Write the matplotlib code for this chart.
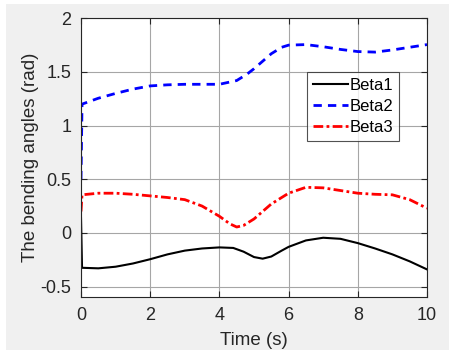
import matplotlib.pyplot as plt
from matplotlib.patches import Rectangle

# values
t1 = [0, 0.03, 0.5, 1, 1.5, 2, 2.5, 3, 3.5, 4, 4.4, 4.7, 5.0, 5.25, 5.5, 5.8, 6, 6.5, 7, 7.5, 8, 8.5, 9, 9.5, 10]
beta1 = [0.14, -0.325, -0.33, -0.315, -0.285, -0.245, -0.2, -0.165, -0.145, -0.135, -0.14, -0.175, -0.225,
         -0.24, -0.22, -0.165, -0.13, -0.07, -0.045, -0.055, -0.095, -0.145, -0.2, -0.265, -0.34]

t2 = [0, 0.03, 0.5, 1, 1.5, 2, 2.5, 3, 3.5, 4, 4.5, 4.8, 5, 5.5, 5.8, 6, 6.5, 7, 7.5, 8, 8.5, 9, 9.5, 10]
beta2 = [0.5, 1.2, 1.255, 1.30, 1.34, 1.37, 1.38, 1.385, 1.385, 1.385, 1.42, 1.48, 1.53, 1.67, 1.73, 1.75,
         1.755, 1.735, 1.71, 1.69, 1.685, 1.705, 1.73, 1.755]

t3 = [0, 0.03, 0.5, 1, 1.5, 2, 2.5, 3, 3.5, 4, 4.3, 4.5, 4.7, 5, 5.5, 6, 6.5, 7, 7.5, 8, 8.5, 9, 9.5, 10]
beta3 = [0.2, 0.355, 0.37, 0.37, 0.36, 0.345, 0.33, 0.31, 0.25, 0.155, 0.085, 0.055, 0.07, 0.13, 0.27, 0.37,
         0.425, 0.42, 0.395, 0.37, 0.36, 0.355, 0.31, 0.23]

xticks = [0, 2, 4, 6, 8, 10]
yticks = [-0.5, 0, 0.5, 1, 1.5, 2]
yticklabels = ['-0.5', '0', '0.5', '1', '1.5', '2']

plt.rcParams['font.family'] = ['Liberation Sans', 'DejaVu Sans']

fig = plt.figure(figsize=(4.49, 3.51), dpi=100, facecolor='white')
# gray MATLAB figure background with a thin white margin
fig.patches.append(Rectangle((6 / 449, 1 / 351), 1, 346 / 351, transform=fig.transFigure,
                             facecolor='#f0f0f0', edgecolor='none', zorder=-10))

ax = fig.add_axes([81 / 449, 1 - 297.3 / 351, 346 / 449, 279 / 351])
ax.set_facecolor('white')

ax.plot(t1, beta1, color='black', lw=1.5, label='Beta1')
ax.plot(t2, beta2, color='blue', lw=2, ls=(0, (3, 2.2)), label='Beta2')
ax.plot(t3, beta3, color='red', lw=2, ls=(0, (3.5, 1.2, 1, 1.2)), label='Beta3')

ax.set_xlim(0, 10)
ax.set_ylim(-0.6, 2)
ax.set_xticks(xticks)
ax.set_yticks(yticks)
ax.set_yticklabels(yticklabels)
ax.grid(True, color='#a6a6a6', lw=0.8)
ax.set_axisbelow(True)
ax.tick_params(direction='in', top=True, right=True, labelsize=13, colors='#262626',
               length=4, width=0.8, pad=7)
for s in ax.spines.values():
    s.set_color('#262626')
    s.set_linewidth(0.8)

ax.set_xlabel('Time (s)', fontsize=13.5, color='#262626', labelpad=6)
ax.set_ylabel('The bending angles (rad)', fontsize=13.5, color='#262626', labelpad=1)

leg = ax.legend(loc='upper left', bbox_to_anchor=(0.653, 0.806), fontsize=12, frameon=True,
                fancybox=False, edgecolor='#262626', handlelength=2.1, handletextpad=0.1,
                borderpad=0.35, labelspacing=0.35, borderaxespad=0)
leg.get_frame().set_linewidth(0.8)

fig.savefig('out.png', dpi=100, facecolor=fig.get_facecolor())
